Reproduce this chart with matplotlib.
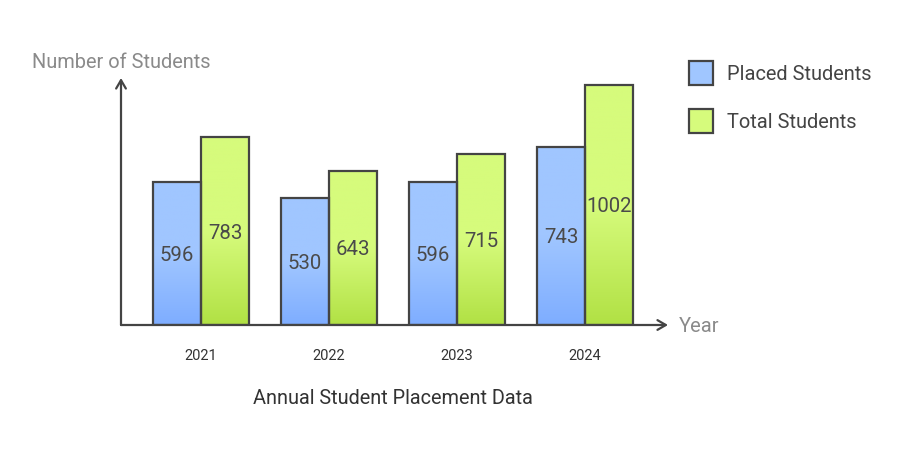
import numpy as np
import matplotlib
matplotlib.use('Agg')
import matplotlib.pyplot as plt
from matplotlib.colors import LinearSegmentedColormap

plt.rcParams['font.family'] = ['Roboto', 'DejaVu Sans']

years = ['2021', '2022', '2023', '2024']
placed = [596, 530, 596, 743]
total = [783, 643, 715, 1002]
series_names = ['Placed Students', 'Total Students']

BLUE_TOP, BLUE_BOTTOM = '#a0c6ff', '#7eadff'
GREEN_TOP, GREEN_BOTTOM = '#d6fb7c', '#b1e144'
EDGE = '#444444'

fig = plt.figure(figsize=(9.06, 4.59), dpi=100)
ax = fig.add_axes([121 / 906, 1 - 325 / 459, (668 - 121) / 906, (325 - 78) / 459])
ax.set_xlim(-0.625, 3.648)
ax.set_ylim(0, 1031)
ax.axis('off')

width = 0.375
x = np.arange(len(years))


def gradient_bars(xs, values, top, bottom):
    cmap = LinearSegmentedColormap.from_list('g', [bottom, top, top])
    grad = np.linspace(0, 1, 256).reshape(-1, 1)
    bars = ax.bar(xs, values, width=width, align='edge', facecolor='none',
                  edgecolor=EDGE, linewidth=1.6, zorder=3)
    for b in bars:
        x0, y0 = b.get_x(), b.get_y()
        im = ax.imshow(grad, cmap=cmap, aspect='auto', origin='lower',
                       extent=[x0, x0 + b.get_width(), y0, y0 + b.get_height()], zorder=2)
        im.set_clip_path(b)
        ax.text(x0 + b.get_width() / 2, b.get_height() / 2 - 8, str(int(b.get_height())),
                ha='center', va='center', fontsize=14.7, color='#4a4a4a', zorder=4)
    return bars


gradient_bars(x - width, placed, BLUE_TOP, BLUE_BOTTOM)
gradient_bars(x, total, GREEN_TOP, GREEN_BOTTOM)

ax.set_xlim(-0.625, 3.648)
ax.set_ylim(0, 1031)

# axes with arrows
arrow = dict(arrowstyle='->,head_length=0.6,head_width=0.35', color=EDGE, lw=1.6,
             shrinkA=0, shrinkB=0)
ax.annotate('', xy=(3.648, 0), xytext=(-0.625, 0), arrowprops=arrow,
            annotation_clip=False, zorder=5)
ax.annotate('', xy=(-0.625, 1031), xytext=(-0.625, 0), arrowprops=arrow,
            annotation_clip=False, zorder=5)

for xi, yr in zip(x, years):
    ax.text(xi, -128, yr, ha='center', va='center', fontsize=10.5, color='#333333')

fig.text(679 / 906, 1 - 326 / 459, 'Year', ha='left', va='center', fontsize=14.5, color='#8a8a8a')
fig.text(32 / 906, 1 - 63 / 459, 'Number of Students', ha='left', va='center',
         fontsize=14.4, color='#8a8a8a')
fig.text(393 / 906, 1 - 398 / 459, 'Annual Student Placement Data', ha='center', va='center',
         fontsize=14.3, color='#333333')

# legend
for i, (name, col) in enumerate(zip(series_names, [BLUE_TOP, GREEN_TOP])):
    yc = 73 + 48 * i
    fig.patches.append(plt.Rectangle((689 / 906, 1 - (yc + 12) / 459), 24 / 906, 24 / 459,
                                     transform=fig.transFigure, facecolor=col,
                                     edgecolor=EDGE, linewidth=1.6))
    fig.text(727 / 906, 1 - (yc + 2) / 459, name, ha='left', va='center', fontsize=14.4,
             color='#444444')

fig.savefig('out.png', dpi=100, facecolor='white')
